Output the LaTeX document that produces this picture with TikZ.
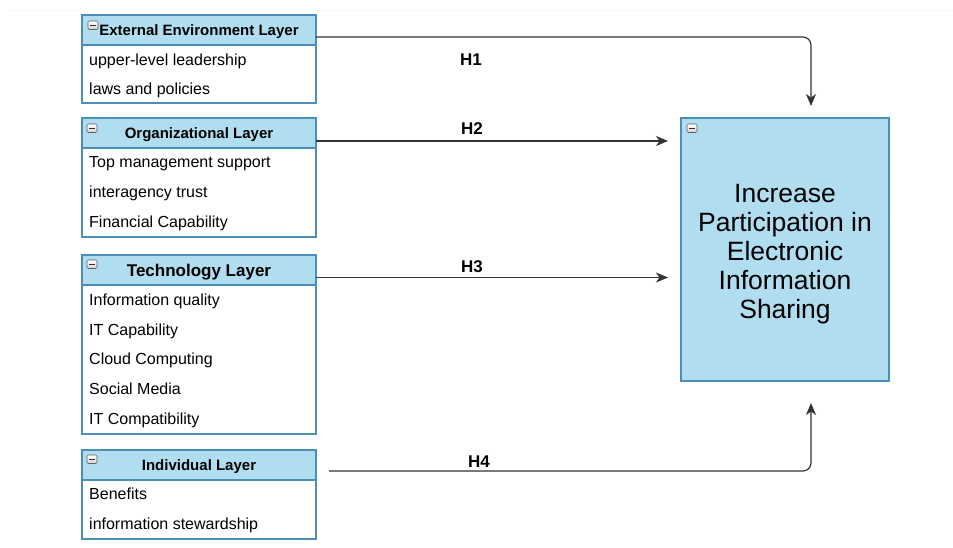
\documentclass[tikz,border=0pt]{standalone}
\usepackage{fontspec}
\setmainfont{Liberation Sans}
\usetikzlibrary{arrows.meta}
\definecolor{hdrfill}{HTML}{B1DDF0}
\definecolor{boxedge}{HTML}{4A8FB8}
\definecolor{linkcol}{HTML}{333333}
\begin{document}
\begin{tikzpicture}[x=1pt,y=-1pt,
  layerbody/.style={draw=boxedge, fill=white, line width=1.2pt, minimum width=234pt,
    anchor=north west, inner sep=0pt, outer sep=0pt},
  layerhead/.style={draw=boxedge, fill=hdrfill, line width=1.2pt, minimum width=234pt,
    minimum height=30pt, anchor=north west, inner sep=0pt, outer sep=0pt,
    text height=11pt, text depth=0pt,
    font=\bfseries\fontsize{15}{18}\selectfont},
  item/.style={anchor=base west, inner sep=0pt, font=\fontsize{16}{19}\selectfont},
  hlabel/.style={inner sep=0pt, font=\bfseries\fontsize{17}{20}\selectfont},
  link/.style={draw=linkcol, line width=1.2pt, rounded corners=8pt,
    -{Stealth[length=12pt,width=10pt,inset=3.5pt]}},
  collapse/.pic={
    \draw[rounded corners=1.2pt, draw=gray!75!black, line width=0.6pt,
      top color=white, bottom color=gray!35] (0,0) rectangle (10,8.5);
    \draw[line width=1.4pt, black!80] (2.4,4.25) -- (7.6,4.25);
  }]
\useasboundingbox (0,0) rectangle (953,547);
% faint rule along the top
\draw[gray!6, line width=0.8pt] (8,10) -- (953,10);

% ---- External Environment Layer
\node[layerbody, minimum height=88pt] (extb) at (82,15) {};
\node[layerhead] (ext) at (82,15) {External Environment Layer};
\node[item] (ext1) at (89,65.5) {upper-level leadership};
\node[item] (ext2) at (89,94.5) {laws and policies};
\pic at (88,21) {collapse};

% ---- Organizational Layer
\node[layerbody, minimum height=119pt] (orgb) at (82,118) {};
\node[layerhead] (org) at (82,118) {Organizational Layer};
\node[item] (org1) at (89,167.5) {Top management support};
\node[item] (org2) at (89,197.5) {interagency trust};
\node[item] (org3) at (89,227.5) {Financial Capability};
\pic at (87,124) {collapse};

% ---- Technology Layer
\node[layerbody, minimum height=179pt] (tecb) at (82,255) {};
\node[layerhead, text height=12pt, font=\bfseries\fontsize{17}{20}\selectfont] (tec) at (82,255) {Technology Layer};
\node[item] (tec1) at (89,305.5) {Information quality};
\node[item] (tec2) at (89,335.5) {IT Capability};
\node[item] (tec3) at (89,364.5) {Cloud Computing};
\node[item] (tec4) at (89,394.5) {Social Media};
\node[item] (tec5) at (89,424.5) {IT Compatibility};
\pic at (87,260) {collapse};

% ---- Individual Layer
\node[layerbody, minimum height=89pt] (indb) at (82,450) {};
\node[layerhead] (ind) at (82,450) {Individual Layer};
\node[item] (ind1) at (89,499.5) {Benefits};
\node[item] (ind2) at (89,529.5) {information stewardship};
\pic at (87,455) {collapse};

% ---- Outcome
\node[draw=boxedge, fill=hdrfill, line width=1.2pt, minimum width=208pt, minimum height=263pt,
  anchor=north west, inner sep=0pt, outer sep=0pt] (goal) at (681,118) {};
\node[align=center, inner sep=0pt, font=\fontsize{26.5}{29}\selectfont]
  (goaltext) at ([yshift=-5pt]goal.center)
  {Increase\\Participation in\\Electronic\\Information\\Sharing};
\pic at (687,124) {collapse};

% ---- Hypotheses
\coordinate (h1s) at (ext.east |- 0,37);
\coordinate (h1e) at ([xshift=26pt,yshift=12pt]goal.north);
\draw[link] (h1s) -| (h1e);
\node[hlabel] (h1) at (471,60) {H1};

\coordinate (h2s) at (orgb.east |- 0,141);
\coordinate (h2e) at ([xshift=-13pt]goal.west |- h2s);
\draw[link] (h2s) -- (h2e);
\node[hlabel] (h2) at (472,129) {H2};

\coordinate (h3s) at (tecb.east |- 0,277.5);
\coordinate (h3e) at ([xshift=-13pt]goal.west |- h3s);
\draw[link] (h3s) -- (h3e);
\node[hlabel] (h3) at (472,267) {H3};

\coordinate (h4s) at ([xshift=13pt]indb.east |- 0,471);
\coordinate (h4e) at ([xshift=26pt,yshift=-22pt]goal.south);
\draw[link] (h4s) -| (h4e);
\node[hlabel] (h4) at (479,462) {H4};
\end{tikzpicture}
\end{document}
